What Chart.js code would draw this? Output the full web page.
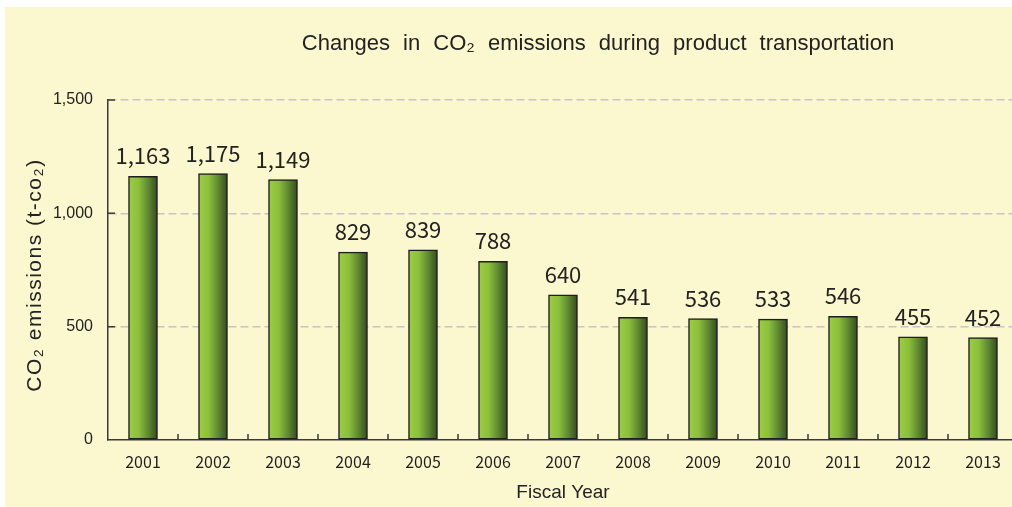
<!DOCTYPE html>
<html>
<head>
<meta charset="utf-8">
<script src="https://cdn.jsdelivr.net/npm/chart.js@4"></script>
<style>
  html, body { margin: 0; padding: 0; background: #ffffff; overflow: hidden; }
  #frame { position: absolute; left: 5px; top: 7px; width: 1007px; height: 500px; overflow: hidden; background: #fbf7cf; }
  canvas { display: block; }
</style>
</head>
<body>
<div id="frame"><canvas id="co2Chart" width="1015" height="500"></canvas></div>
<script>
const years = ['2001', '2002', '2003', '2004', '2005', '2006', '2007', '2008', '2009', '2010', '2011', '2012', '2013'];
const emissions = [1163, 1175, 1149, 829, 839, 788, 640, 541, 536, 533, 546, 455, 452];
const yTicks = [0, 500, 1000, 1500];

const chartTitle = 'Changes in CO\u2082 emissions during product transportation';
const yTitle = 'CO\u2082 emissions (t-co\u2082)';
const xTitle = 'Fiscal Year';

const cjkFont = '"Noto Sans CJK JP", "Liberation Sans", sans-serif';
const sansFont = '"Liberation Sans", Arial, sans-serif';

// gradient per bar, built from the x scale position
function barGradient(context) {
  const chart = context.chart;
  const xScale = chart.scales.x;
  if (!xScale || context.dataIndex === undefined) return '#7fb23c';
  const cx = xScale.getPixelForValue(context.dataIndex);
  if (!isFinite(cx)) return '#7fb23c';
  const half = 14.5;
  const g = chart.ctx.createLinearGradient(cx - half, 0, cx + half, 0);
  g.addColorStop(0, '#9ccd43');
  g.addColorStop(0.35, '#8cbf3d');
  g.addColorStop(0.7, '#5c8530');
  g.addColorStop(1, '#364922');
  return g;
}

const extras = {
  id: 'extras',
  afterDraw(chart) {
    const ctx = chart.ctx;
    const xs = chart.scales.x;
    const ys = chart.scales.y;
    const area = chart.chartArea;

    ctx.save();
    // inward tick marks
    ctx.strokeStyle = '#3a3a3a';
    ctx.lineWidth = 1.5;
    ctx.beginPath();
    for (let i = 1; i < years.length; i++) {
      const xb = (xs.getPixelForValue(i - 1) + xs.getPixelForValue(i)) / 2;
      ctx.moveTo(xb, area.bottom);
      ctx.lineTo(xb, area.bottom - 6);
    }
    yTicks.forEach(v => {
      if (v === 0) return;
      const yp = ys.getPixelForValue(v);
      ctx.moveTo(area.left, yp);
      ctx.lineTo(area.left + 7, yp);
    });
    ctx.stroke();

    // value labels
    const meta = chart.getDatasetMeta(0);
    ctx.fillStyle = '#222222';
    ctx.font = '22px ' + cjkFont;
    ctx.textAlign = 'center';
    ctx.textBaseline = 'alphabetic';
    meta.data.forEach((bar, i) => {
      ctx.fillText(emissions[i].toLocaleString('en-US'), bar.x, bar.y - 12);
    });

    // title
    ctx.font = '22px ' + sansFont;
    ctx.textBaseline = 'middle';
    ctx.wordSpacing = '7px';
    ctx.fillText(chartTitle, 593, 37);
    ctx.wordSpacing = '0px';

    // y axis title
    ctx.save();
    ctx.translate(30, (area.top + area.bottom) / 2 + 5);
    ctx.rotate(-Math.PI / 2);
    ctx.font = '21px ' + sansFont;
    ctx.letterSpacing = '1.5px';
    ctx.fillText(yTitle, 0, 0);
    ctx.restore();

    ctx.restore();
  }
};

const ctx = document.getElementById('co2Chart').getContext('2d');
const co2Chart = new Chart(ctx, {
  type: 'bar',
  data: {
    labels: years,
    datasets: [{
      data: emissions,
      backgroundColor: barGradient,
      borderColor: '#1e1e1e',
      borderWidth: 1.5,
      borderSkipped: false,
      barThickness: 29
    }]
  },
  options: {
    responsive: false,
    animation: false,
    events: [],
    layout: {
      padding: { top: 93, left: 0, right: 2, bottom: 0 }
    },
    plugins: {
      legend: { display: false },
      title: { display: false },
      tooltip: { enabled: false }
    },
    scales: {
      x: {
        offset: true,
        grid: { display: false, drawTicks: false },
        border: { display: true, color: '#3a3a3a', width: 1.5 },
        ticks: {
          color: '#1e1e1e',
          font: { family: cjkFont, size: 16 },
          padding: 12,
          maxRotation: 0,
          autoSkip: false
        },
        title: {
          display: true,
          text: xTitle,
          color: '#222222',
          font: { family: sansFont, size: 19 },
          padding: { top: 0, bottom: 3 }
        },
        afterFit(scale) { scale.height = 67; }
      },
      y: {
        min: 0,
        max: 1500,
        afterBuildTicks(scale) { scale.ticks = yTicks.map(v => ({ value: v })); },
        grid: {
          drawTicks: false,
          color: c => c.tick && c.tick.value === 0 ? 'rgba(0,0,0,0)' : '#c6c6c6',
          lineWidth: 1.5
        },
        border: { display: true, color: '#3a3a3a', width: 1.5, dash: [8, 4] },
        ticks: {
          color: '#222222',
          font: { family: sansFont, size: 16 },
          padding: 15,
          callback: v => v.toLocaleString('en-US')
        },
        title: { display: false },
        afterFit(scale) { scale.width = 103; }
      }
    }
  },
  plugins: [extras]
});
</script>
</body>
</html>
